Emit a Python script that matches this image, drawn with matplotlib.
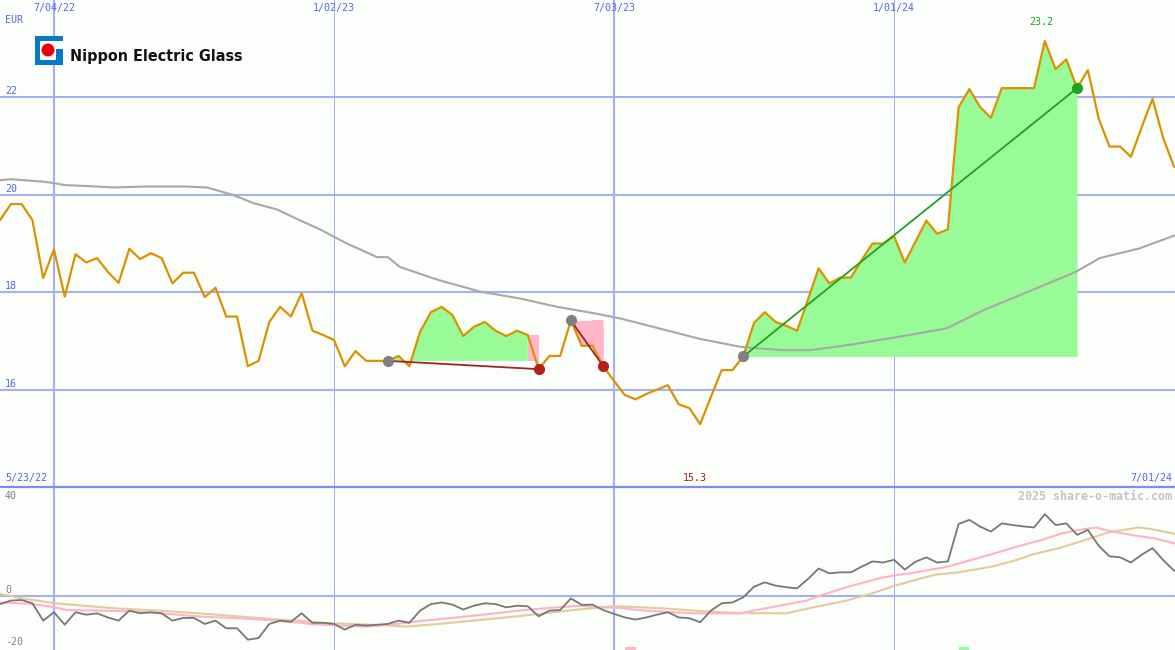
import matplotlib.pyplot as plt
from matplotlib.patches import Rectangle, Circle
import numpy as np
import pandas as pd

# weekly closes, Nippon Electric Glass (EUR), 5/23/22 .. 7/01/24
dates = pd.date_range("2022-05-23", "2024-07-01", freq="7D")
price = [
    19.30, 19.48, 19.81, 19.81, 19.48, 18.29, 18.88, 17.91, 18.78, 18.61,
    18.70, 18.42, 18.19, 18.89, 18.68, 18.80, 18.70, 18.18, 18.40, 18.40,
    17.90, 18.09, 17.50, 17.50, 16.48, 16.59, 17.39, 17.70, 17.50, 17.98,
    17.21, 17.12, 17.02, 16.48, 16.79, 16.59, 16.59, 16.59, 16.69, 16.48,
    17.19, 17.59, 17.70, 17.53, 17.10, 17.29, 17.39, 17.21, 17.10, 17.21,
    17.12, 16.42, 16.69, 16.69, 17.42, 16.90, 16.90, 16.48, 16.18, 15.89,
    15.80, 15.91, 16.00, 16.09, 15.70, 15.62, 15.29, 15.85, 16.40, 16.40,
    16.68, 17.37, 17.59, 17.39, 17.31, 17.21, 17.84, 18.49, 18.18, 18.30,
    18.30, 18.66, 19.00, 19.00, 19.15, 18.61, 19.04, 19.47, 19.20, 19.29,
    21.80, 22.17, 21.80, 21.58, 22.19, 22.19, 22.19, 22.19, 23.16, 22.58,
    22.78, 22.19, 22.56, 21.57, 20.99, 20.99, 20.78, 21.39, 21.97, 21.16,
    20.58,
]

# 40-week moving average (read at these week numbers)
ma_week = [1, 2, 5, 6, 7, 10, 11.5, 14.5, 18.3, 20.2, 22.6, 24.5, 26.7, 28.8, 30.7,
           33.2, 36, 37, 38.1, 41.7, 45.6, 49.3, 52.7, 56.1, 58.6, 61.6, 66, 69.7,
           71.2, 73.7, 76.2, 79.9, 84.6, 88.9, 92.3, 96.9, 100.9, 103.1, 106.8, 110.1]
ma_price = [20.30, 20.32, 20.27, 20.24, 20.20, 20.17, 20.15, 20.17, 20.17, 20.15, 20.00,
            19.83, 19.70, 19.48, 19.29, 19.00, 18.72, 18.72, 18.52, 18.25, 18.01, 17.87,
            17.70, 17.57, 17.46, 17.29, 17.04, 16.88, 16.85, 16.81, 16.81, 16.92, 17.09,
            17.26, 17.63, 18.05, 18.42, 18.70, 18.90, 19.17]

# lower panel: momentum (%) and its two averages
momentum = [
    -3.5, -3.1, -1.8, -1.6, -2.8, -9.2, -6.1, -10.7, -6.1, -7.0,
    -6.5, -8.0, -9.2, -5.5, -6.5, -6.1, -6.5, -9.2, -8.2, -8.2,
    -10.4, -9.2, -12.0, -12.0, -16.2, -15.6, -10.4, -9.2, -9.6, -6.5,
    -10.0, -10.0, -10.4, -12.5, -10.7, -11.0, -10.7, -10.4, -9.2, -10.0,
    -5.5, -3.1, -2.5, -3.3, -5.1, -3.7, -2.8, -3.1, -4.3, -3.7,
    -3.9, -7.6, -5.5, -5.3, -1.0, -3.4, -3.3, -5.3, -6.7, -8.0,
    -8.8, -8.0, -7.0, -6.1, -8.0, -8.3, -9.8, -5.5, -2.8, -2.5,
    -0.6, 3.3, 4.9, 3.7, 3.1, 2.7, 6.1, 10.0, 8.2, 8.6,
    8.6, 10.7, 12.6, 12.2, 13.2, 9.6, 12.5, 14.1, 12.2, 12.6,
    26.4, 27.9, 25.4, 23.6, 26.6, 26.0, 25.5, 25.1, 30.0, 26.0,
    26.6, 22.4, 24.2, 18.4, 14.5, 14.1, 12.2, 15.1, 17.5, 13.1,
    9.2,
]
fast_week = [1, 2.8, 4, 6.1, 7.2, 10.3, 13.3, 16.5, 19.6, 22.6, 25.7, 27.6, 28.8, 29.9,
             34.1, 35, 37.2, 40.3, 43.4, 46.5, 49.6, 52.7, 54.9, 56.7, 58.6, 59.8, 61,
             63.5, 65.7, 67.8, 69.7, 70.9, 73.4, 75.9, 77.1, 79.6, 82.7, 84.4, 85.6, 87.2,
             89, 91.5, 93.1, 95.2, 97.7, 99.6, 101.1, 102.8, 103.9, 106.4, 108.2, 110.1]
fast_val = [-2.5, -2.8, -3.1, -4.3, -5.3, -5.5, -5.8, -6.7, -7.7, -8.2, -8.9, -9.6, -9.9,
            -10.5, -11.3, -11.4, -10.7, -9.2, -8.0, -6.7, -5.3, -4.3, -3.7, -4.3, -4.5,
            -5.1, -5.5, -6.1, -6.5, -6.5, -6.5, -5.5, -3.7, -1.8, 0.0, 3.1, 6.5, 7.7, 8.3,
            9.4, 10.7, 13.5, 15.3, 17.8, 20.5, 22.9, 24.2, 25.1, 23.9, 22.1, 21.1, 19.2]
slow_week = [1, 1.9, 2.8, 4.1, 6.1, 8.7, 11.8, 14.9, 18, 21.1, 24.2, 27.3, 28.8, 31,
             33.5, 37.2, 38.7, 41.8, 44.9, 48, 51.1, 54.2, 55.8, 58, 60.5, 62.6, 64.1,
             66.6, 69.4, 74, 76.5, 79.6, 81.5, 82.7, 84.1, 86, 87.8, 90, 93.1, 95.2, 96.8,
             99.6, 102, 103.9, 106.7, 107.9, 110.1]
slow_val = [0.6, 0.0, -0.9, -1.6, -2.8, -3.7, -4.7, -5.3, -6.1, -7.0, -8.0, -8.9, -9.2,
            -10.0, -10.4, -11.0, -11.4, -10.4, -9.2, -8.0, -6.7, -5.3, -4.7, -3.9, -4.3,
            -4.7, -5.1, -5.8, -6.4, -6.5, -4.3, -1.8, 0.3, 1.8, 3.7, 5.8, 7.7, 8.6, 10.7,
            12.9, 15.1, 17.8, 20.8, 23.3, 25.1, 24.5, 22.7]

# trades: entry / exit week numbers
entry_week = [37, 54, 70]
exit_week = [51, 57, 101]
sell_signal_week = [59]
buy_signal_week = [90]

grid_dates = ["2022-07-04", "2023-01-02", "2023-07-03", "2024-01-01"]
price_ticks = [16, 18, 20, 22]
mom_ticks = [40, 0, -20]

BG = "#fbfefb"
GRID = "#a3b0f2"
BLUE_TXT = "#5566ee"
MONO = "DejaVu Sans Mono"


def fmt_date(d):
    return f"{d.month}/{d.day:02d}/{d:%y}"


fig = plt.figure(figsize=(11.75, 6.5), dpi=100)
fig.patch.set_facecolor(BG)
ax = fig.add_axes([0, 163 / 650, 1, 487 / 650])
ax2 = fig.add_axes([0, 0, 1, 163 / 650], sharex=ax)
for a in (ax, ax2):
    a.set_facecolor(BG)
    a.set_xticks([])
    a.set_yticks([])
    for s in a.spines.values():
        s.set_visible(False)

x = np.arange(len(price))
p = np.array(price)
ax.set_xlim(0.99, 110.09)
ax.set_ylim(14, 24)
ax2.set_ylim(-20, 40)

# grid
for d in grid_dates:
    gi = dates.get_loc(pd.Timestamp(d))
    thick = pd.Timestamp(d).month == 7
    lw = 1.5 if thick else 0.75
    ax.axvline(gi, color=GRID, lw=lw, zorder=1)
    ax2.axvline(gi, color=GRID, lw=lw, zorder=1)
    ax.annotate(fmt_date(pd.Timestamp(d)), xy=(gi, 1), xycoords=ax.get_xaxis_transform(),
                xytext=(0, -8), textcoords="offset pixels", ha="center", va="center",
                family=MONO, fontsize=7.2, color=BLUE_TXT)
for v in price_ticks:
    ax.axhline(v, color=GRID, lw=1.5, zorder=1)
    ax.annotate(str(v), xy=(0, v), xycoords=ax.get_yaxis_transform(), xytext=(5, 6),
                textcoords="offset pixels", ha="left", va="center",
                family=MONO, fontsize=7.2, color=BLUE_TXT)
ax2.axhline(0, color=GRID, lw=1.5, zorder=1)
ax2.spines["top"].set_visible(True)
ax2.spines["top"].set_color("#7d8cee")
ax2.spines["top"].set_linewidth(1.6)
mom_dy = {40: -9, 0: 6, -20: 8}
for v in mom_ticks:
    ax2.annotate(str(v), xy=(0, v), xycoords=ax2.get_yaxis_transform(), xytext=(5, mom_dy[v]),
                 textcoords="offset pixels", ha="left", va="center",
                 family=MONO, fontsize=7.2, color="#808080")

# trades
for e, q in zip(entry_week, exit_week):
    lvl = p[e]
    win = p[q] > lvl
    end = q if win else q - 1
    xs = x[e:end + 1]
    ax.fill_between(xs, lvl, p[e:end + 1], where=p[e:end + 1] >= lvl, interpolate=True,
                    color="#98fb98", lw=0, zorder=2)
    if not win:
        xs = x[e:q + 1]
        ax.fill_between(xs, lvl, p[e:q + 1], where=p[e:q + 1] < lvl, interpolate=True,
                        color="#ffb6c8", lw=0, zorder=2)
        ax.fill_between([q - 1, q], lvl, p[q - 1], color="#ffb6c8", lw=0, zorder=2)
    col = "#20a020" if win else "#a52222"
    ax.plot([e, q], [lvl, p[q]], color=col, lw=1.3, zorder=5)
    ax.plot(e, lvl, "o", color="#808080", ms=7, zorder=6)
    ax.plot(q, p[q], "o", color="#22a022" if win else "#b22020", ms=7, zorder=6)

ax.plot(ma_week, ma_price, color="#a8a8a8", lw=1.5, zorder=3)
ax.plot(x, p, color="#dc9200", lw=1.6, zorder=4)

# min / max labels
imax, imin = int(np.argmax(p)), int(np.argmin(p))
ax.annotate(f"{p[imax]:.1f}", xy=(imax, 1), xycoords=ax.get_xaxis_transform(),
            xytext=(-4, -22), textcoords="offset pixels", ha="center", va="center",
            family=MONO, fontsize=7.2, color="#20a020")
ax.annotate(f"{p[imin]:.1f}", xy=(imin, 0), xycoords=ax.get_xaxis_transform(),
            xytext=(-5, 9), textcoords="offset pixels", ha="center", va="center",
            family=MONO, fontsize=7.2, color="#a02020")
ax.annotate(fmt_date(dates[0]), xy=(0, 0), xycoords="axes fraction", xytext=(5, 9),
            textcoords="offset pixels", ha="left", va="center",
            family=MONO, fontsize=7.2, color=BLUE_TXT)
ax.annotate(fmt_date(dates[-1]), xy=(1, 0), xycoords="axes fraction", xytext=(-3, 9),
            textcoords="offset pixels", ha="right", va="center",
            family=MONO, fontsize=7.2, color=BLUE_TXT)
ax.annotate("EUR", xy=(0, 1), xycoords="axes fraction", xytext=(5, -20),
            textcoords="offset pixels", ha="left", va="center",
            family=MONO, fontsize=7.2, color=BLUE_TXT)

# lower panel
ax2.plot(slow_week, slow_val, color="#e4cb9d", lw=1.5, zorder=2)
ax2.plot(fast_week, fast_val, color="#ffb3c6", lw=1.5, zorder=3)
ax2.plot(x, momentum, color="#777777", lw=1.3, zorder=4)
ax2.bar(np.array(sell_signal_week) + 0.5, 1.1, bottom=-20, width=1.0, color="#ffb6c8", zorder=5)
ax2.bar(np.array(buy_signal_week) + 0.5, 1.1, bottom=-20, width=1.0, color="#98fb98", zorder=5)
ax2.annotate("2025 share-o-matic.com", xy=(1, 1), xycoords="axes fraction", xytext=(-3, -9),
             textcoords="offset pixels", ha="right", va="center",
             family=MONO, fontsize=8.4, fontweight="bold", color="#c4c4c4")

# logo
lg = fig.add_axes([0, 0, 1, 1], zorder=10)
lg.set_xlim(0, 1175)
lg.set_ylim(650, 0)
lg.axis("off")
lg.add_patch(Rectangle((35, 36), 28, 29, color="#0a78c8", lw=0))
lg.add_patch(Rectangle((40, 41), 16, 19, color="white", lw=0))
lg.add_patch(Rectangle((56, 41), 7, 8, color="white", lw=0))
lg.add_patch(Circle((48, 50), 6.5, color="#e8000a", lw=0))
lg.text(70, 57, "Nippon Electric Glass", ha="left", va="center", fontsize=11.5,
        fontweight="bold", fontstretch="condensed", family=["DejaVu Sans"], color="#111111")

fig.savefig("out.png", dpi=100, facecolor=BG)
